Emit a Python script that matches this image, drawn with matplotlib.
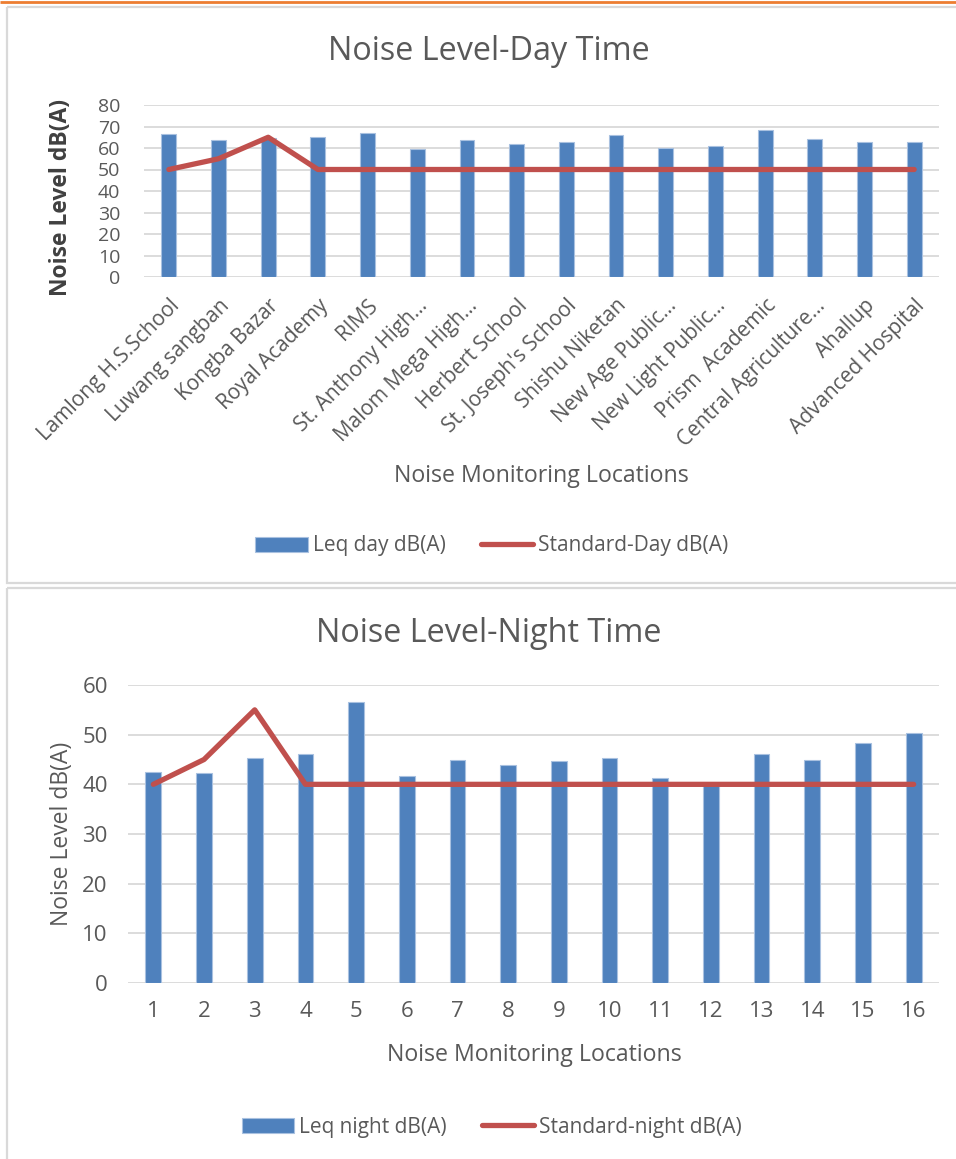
import matplotlib
matplotlib.use("Agg")
import matplotlib.pyplot as plt
from matplotlib.patches import Rectangle
import numpy as np

# ---- data ----
locations = [
    "Lamlong H.S.School", "Luwang sangban", "Kongba Bazar", "Royal Academy",
    "RIMS", "St. Anthony High...", "Malom Mega High...", "Herbert School",
    "St. Joseph's School", "Shishu Niketan", "New Age Public...",
    "New Light Public...", "Prism  Academic", "Central Agriculture...",
    "Ahallup", "Advanced Hospital",
]
leq_day = [66.4, 63.6, 64.5, 65.3, 67.1, 59.4, 63.6, 61.7,
           62.9, 65.9, 60.0, 61.1, 68.2, 64.1, 62.9, 62.9]
std_day = [50, 55, 65, 50, 50, 50, 50, 50, 50, 50, 50, 50, 50, 50, 50, 50]

night_ticks = [str(i) for i in range(1, 17)]
leq_night = [42.5, 42.3, 45.4, 46.2, 56.5, 41.7, 44.9, 43.8,
             44.6, 45.4, 41.2, 39.8, 46.2, 44.9, 48.3, 50.3]
std_night = [40, 45, 55, 40, 40, 40, 40, 40, 40, 40, 40, 40, 40, 40, 40, 40]

# ---- style ----
W, H = 956, 1159
BAR = "#4F81BD"
BAR_EDGE = "#A9C1E0"
LINE = "#C0504D"
GRID = "#D9D9D9"
TXT = "#595959"
plt.rcParams["font.family"] = ["Open Sans", "DejaVu Sans"]

fig = plt.figure(figsize=(W / 100, H / 100), dpi=100)


def px_axes(left, top, right, bottom):
    return fig.add_axes([left / W, 1 - bottom / H, (right - left) / W, (bottom - top) / H])


def fx(x):
    return x / W


def fy(y):
    return 1 - y / H


# panel frames and top accent line
bg = fig.add_axes([0, 0, 1, 1], zorder=-5)
bg.set_xlim(0, W)
bg.set_ylim(H, 0)
bg.axis("off")
bg.add_patch(Rectangle((7, 7), W + 10, 576, fill=False, ec=GRID, lw=1.6))
bg.add_patch(Rectangle((7, 588), W + 10, 600, fill=False, ec=GRID, lw=1.6))
bg.plot([0, W], [2, 2], color="#ED7D31", lw=2.0, solid_capstyle="butt")


def style_axes(ax, ymax, step, tick_size):
    ax.set_ylim(0, ymax)
    ax.set_yticks(np.arange(0, ymax + 1, step))
    ax.set_xlim(-0.5, 15.5)
    ax.grid(axis="y", color=GRID, lw=1.3, zorder=0)
    ax.set_axisbelow(True)
    for s in ax.spines.values():
        s.set_visible(False)
    ax.tick_params(axis="both", length=0, colors=TXT, labelsize=tick_size)
    ax.set_facecolor("none")


def add_legend(ax, center_y, size):
    handles, labels = ax.get_legend_handles_labels()
    order = [labels.index(l) for l in labels if "Leq" in l] + \
            [labels.index(l) for l in labels if "Standard" in l]
    fig.legend([handles[i] for i in order], [labels[i] for i in order],
               loc="center", bbox_to_anchor=(fx(492), fy(center_y)), ncol=2,
               frameon=False, fontsize=size, handlelength=2.5,
               handletextpad=0.25, columnspacing=1.7, labelcolor=TXT)


x = np.arange(len(locations))

# ---- day chart ----
ax1 = px_axes(144, 105, 939, 277)
style_axes(ax1, 80, 10, 14)
ax1.bar(x, leq_day, width=0.3, color=BAR, edgecolor=BAR_EDGE, lw=0.8, zorder=2,
        label="Leq day dB(A)")
ax1.plot(x, std_day, color=LINE, lw=3.8, solid_capstyle="round",
         solid_joinstyle="round", zorder=3, label="Standard-Day dB(A)")
ax1.set_xticks(x)
ax1.set_xticklabels(locations, rotation=45, ha="right", va="top",
                    rotation_mode="anchor", fontsize=15, color=TXT)
ax1.tick_params(axis="x", pad=13)
ax1.tick_params(axis="y", pad=17)

fig.text(fx(489), fy(52), "Noise Level-Day Time", ha="center", va="center",
         fontsize=23.3, color=TXT)
fig.text(fx(61), fy(197), "Noise Level dB(A)", rotation=90, ha="center",
         va="center", fontsize=16.5, color="#404040", fontweight="bold")
fig.text(fx(541), fy(476), "Noise Monitoring Locations", ha="center",
         va="center", fontsize=16.7, color=TXT)
add_legend(ax1, 546, 15)

# ---- night chart ----
ax2 = px_axes(128, 685, 939, 983)
style_axes(ax2, 60, 10, 16)
ax2.bar(x, leq_night, width=0.31, color=BAR, edgecolor=BAR_EDGE, lw=0.8, zorder=2,
        label="Leq night dB(A)")
ax2.plot(x, std_night, color=LINE, lw=3.8, solid_capstyle="round",
         solid_joinstyle="round", zorder=3, label="Standard-night dB(A)")
ax2.set_xticks(x)
ax2.set_xticklabels(night_ticks, fontsize=16, color=TXT)
ax2.tick_params(axis="x", pad=13)
ax2.tick_params(axis="y", pad=14.5)

fig.text(fx(489), fy(634), "Noise Level-Night Time", ha="center", va="center",
         fontsize=23.3, color=TXT)
fig.text(fx(62), fy(834), "Noise Level dB(A)", rotation=90, ha="center",
         va="center", fontsize=16.5, color=TXT)
fig.text(fx(534), fy(1055), "Noise Monitoring Locations", ha="center",
         va="center", fontsize=16.7, color=TXT)
add_legend(ax2, 1127, 15)

fig.savefig("out.png", dpi=100, facecolor="white")
